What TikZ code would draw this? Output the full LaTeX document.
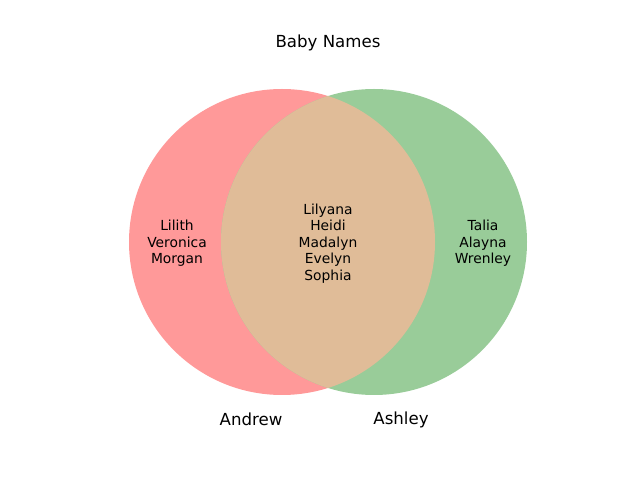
\documentclass[tikz,border=0pt]{standalone}
\usepackage{fontspec}
\setmainfont{DejaVu Sans}
\definecolor{setA}{HTML}{FF9999}
\definecolor{setB}{HTML}{99CC99}
\definecolor{setAB}{HTML}{E0BC98}
\begin{document}
\begin{tikzpicture}[x=0.01in,y=-0.01in,
  region/.style={align=center,font=\fontsize{10}{12}\selectfont,inner sep=0pt},
  setlabel/.style={font=\fontsize{12}{14}\selectfont,inner sep=0pt},
  titlelabel/.style={font=\fontsize{12}{14}\selectfont,inner sep=0pt}]
\useasboundingbox (0,0) rectangle (640,480);
\fill[setA] (282,242) circle[radius=153];
\fill[setB] (374,242) circle[radius=153];
\begin{scope}
  \clip (282,242) circle[radius=153];
  \fill[setAB] (374,242) circle[radius=153];
\end{scope}
\node[titlelabel] (title) at (328,43) {Baby Names};
\node[region] (onlyA) at (177,243.5) {Lilith\\Veronica\\Morgan};
\node[region] (both) at (328,243.5) {Lilyana\\Heidi\\Madalyn\\Evelyn\\Sophia};
\node[region] (onlyB) at (483,243.5) {Talia\\Alayna\\Wrenley};
\node[setlabel] (labA) at (251,419.5) {Andrew};
\node[setlabel] (labB) at (401,419.5) {Ashley};
\end{tikzpicture}
\end{document}
